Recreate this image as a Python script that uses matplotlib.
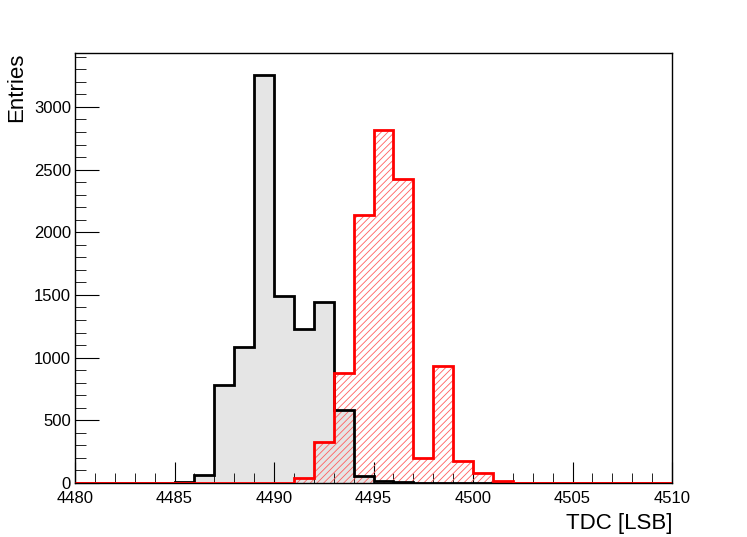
import matplotlib
matplotlib.use("Agg")
import matplotlib.pyplot as plt
import numpy as np
from matplotlib.ticker import MultipleLocator

plt.rcParams['font.family'] = ['Liberation Sans', 'DejaVu Sans']
plt.rcParams['hatch.linewidth'] = 0.6

# bin lower edges 4480..4509, width 1
bin_edges = list(range(4480, 4511))
black_counts = [0, 0, 0, 0, 0, 6, 62, 785, 1088, 3252, 1493, 1228, 1440, 581, 57,
                18, 5, 0, 0, 0, 0, 0, 0, 0, 0, 0, 0, 0, 0, 0]
red_counts = [0, 0, 0, 0, 0, 0, 0, 0, 0, 0, 2, 40, 329, 880, 2138, 2817, 2424, 196,
              934, 178, 77, 16, 0, 0, 0, 0, 0, 0, 0, 0]
x_label = "TDC [LSB]"
y_label = "Entries"

fig = plt.figure(figsize=(7.47, 5.37), dpi=100)
ax = fig.add_axes([75/747, 54/537, 597/747, 430/537])

edges = np.array(bin_edges, dtype=float)
bc = np.array(black_counts, dtype=float)
rc = np.array(red_counts, dtype=float)

ax.stairs(bc, edges, fill=True, color='#e5e5e5', zorder=1)
ax.stairs(bc, edges, color='black', linewidth=2, zorder=3, baseline=None)
ax.stairs(rc, edges, fill=True, facecolor='none', edgecolor='#ff6060', hatch='/////',
          linewidth=0, zorder=2)
ax.stairs(rc, edges, color='red', linewidth=2, zorder=4, baseline=None)

ax.set_xlim(4480, 4510)
ax.set_ylim(0, 3430)

ax.xaxis.set_major_locator(MultipleLocator(5))
ax.xaxis.set_minor_locator(MultipleLocator(1))
ax.yaxis.set_major_locator(MultipleLocator(500))
ax.yaxis.set_minor_locator(MultipleLocator(100))
ax.tick_params(axis='both', which='both', direction='in', top=False, right=False,
               labelsize=12, color='black')
ax.tick_params(axis='x', which='major', length=15, pad=6)
ax.tick_params(axis='x', which='minor', length=7)
ax.tick_params(axis='y', which='major', length=17, pad=3)
ax.tick_params(axis='y', which='minor', length=8)

for s in ax.spines.values():
    s.set_linewidth(1.0)
    s.set_color('black')

ax.set_xlabel(x_label, fontsize=16)
ax.xaxis.set_label_coords(1.0, -0.07)
ax.xaxis.label.set_horizontalalignment('right')
ax.set_ylabel(y_label, fontsize=16)
ax.yaxis.set_label_coords(-0.08, 1.0)
ax.yaxis.label.set_horizontalalignment('right')

fig.savefig("out.png", dpi=100)
